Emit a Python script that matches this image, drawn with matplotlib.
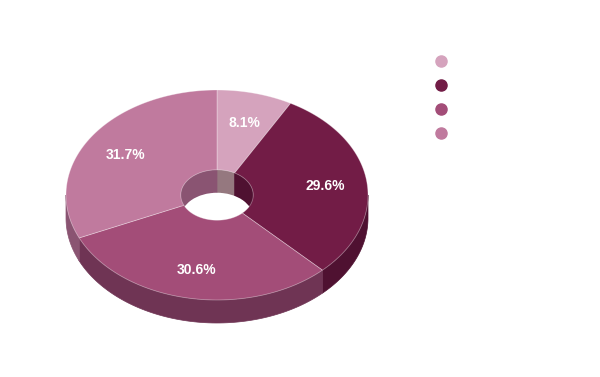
import matplotlib
matplotlib.use("Agg")
import matplotlib.pyplot as plt
import numpy as np
from matplotlib.patches import Polygon, Ellipse
from matplotlib.lines import Line2D

# data
labels = ["Serie 1", "Serie 2", "Serie 3", "Serie 4"]
values = [8.1, 29.6, 30.6, 31.7]
top_colors = ["#d5a3bd", "#721c46", "#a34d78", "#c07a9e"]
side_colors = ["#95787f", "#4f1131", "#6f3454", "#8a5472"]

# geometry of the 3d donut (in pixels)
cx, cy = 217, 195
rx, ry = 151, 105
inner = 0.24
depth = 23


def pt(theta, r=1.0, dy=0.0):
    t = np.radians(theta)
    return cx + r * rx * np.cos(t), cy - r * ry * np.sin(t) + dy


def arc(a, b, r=1.0, dy=0.0, n=80):
    th = np.linspace(a, b, n)
    t = np.radians(th)
    return np.column_stack([cx + r * rx * np.cos(t), cy - r * ry * np.sin(t) + dy])


def overlap(a, b, lo, hi):
    # parts of [a,b] inside [lo,hi] (mod 360)
    out = []
    for k in (-2, -1, 0, 1, 2):
        l, h = lo + 360 * k, hi + 360 * k
        s, e = max(a, l), min(b, h)
        if e > s:
            out.append((s, e))
    return out


fig = plt.figure(figsize=(6, 3.77), dpi=100)
ax = fig.add_axes([0, 0, 1, 1])
ax.set_xlim(0, 600)
ax.set_ylim(377, 0)
ax.axis("off")

total = sum(values)
starts = []
cum = 0
for v in values:
    a_start = 90 - cum / total * 360
    a_end = 90 - (cum + v) / total * 360
    starts.append((a_end, a_start))
    cum += v

# outer side walls (front half)
for (a, b), c in zip(starts, side_colors):
    for s, e in overlap(a, b, -180, 0):
        top = arc(s, e)
        bot = arc(e, s, dy=depth)
        ax.add_patch(Polygon(np.vstack([top, bot]), closed=True, fc=c, ec=c, lw=0.5))

# inner walls of the hole (back half)
for (a, b), c in zip(starts, side_colors):
    for s, e in overlap(a, b, 0, 180):
        top = arc(s, e, r=inner)
        bot = arc(e, s, r=inner, dy=depth)
        ax.add_patch(Polygon(np.vstack([top, bot]), closed=True, fc=c, ec=c, lw=0.5))

hole = Ellipse((cx, cy), 2 * inner * rx, 2 * inner * ry, fc="none", ec="none")
ax.add_patch(hole)
white = Ellipse((cx, cy + depth), 2 * inner * rx, 2 * inner * ry, fc="white", ec="none")
ax.add_patch(white)
white.set_clip_path(hole)

# top faces
for (a, b), c in zip(starts, top_colors):
    outer_pts = arc(b, a)
    inner_pts = arc(a, b, r=inner)
    ax.add_patch(Polygon(np.vstack([outer_pts, inner_pts]), closed=True,
                         fc=c, ec=(1, 1, 1, 0.35), lw=0.6))

# percentage labels
for (a, b), v in zip(starts, values):
    x, y = pt((a + b) / 2, r=0.72, dy=1)
    ax.text(x, y, f"{v:.1f}%", color="white", fontsize=10, fontweight="bold",
            family="Liberation Sans", ha="center", va="center")

handles = [Line2D([], [], ls="none", marker="o", markersize=8, color=c, mec=c)
           for c in top_colors]
fig.legend(handles, [" "] * len(labels), loc="upper left",
           bbox_to_anchor=(434 / 600, 1 - 55 / 377), frameon=False,
           borderaxespad=0, borderpad=0, handlelength=1, handletextpad=0.5,
           labelspacing=0.72, fontsize=10)

fig.savefig("out.png", dpi=100)
